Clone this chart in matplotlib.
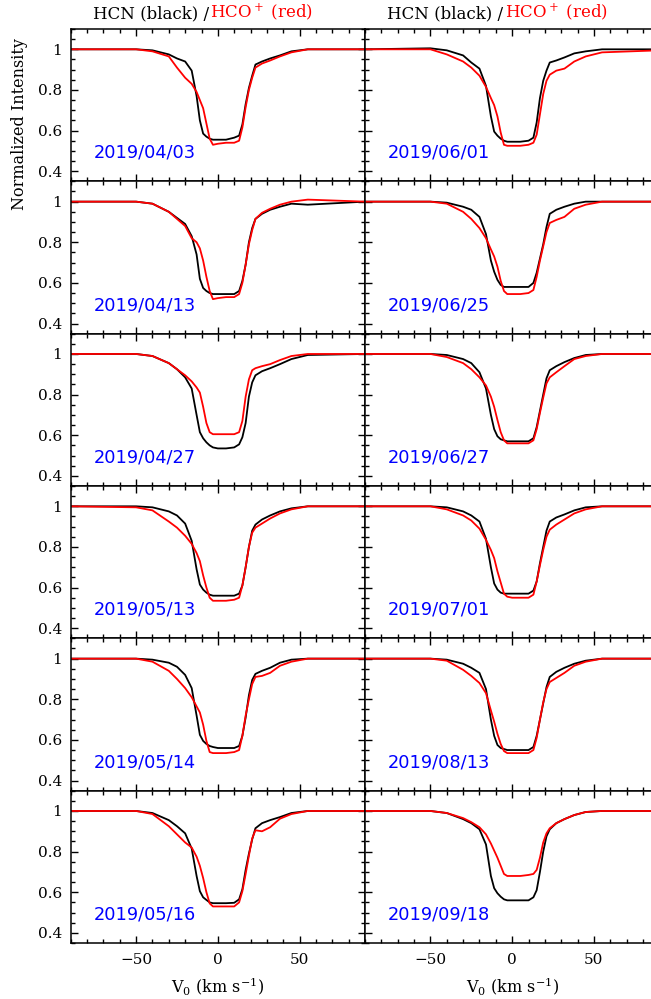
import numpy as np
import matplotlib.pyplot as plt
from matplotlib.ticker import MultipleLocator, FixedLocator, FixedFormatter

# velocity grid (km/s) shared by all profiles
vel = [-90, -50, -40, -30, -25, -20, -16, -13, -11, -9, -7, -5, -3, 0, 5, 10,
       13, 15, 17, 19, 21, 23, 27, 32, 38, 45, 55, 90]

dates_left = ["2019/04/03", "2019/04/13", "2019/04/27", "2019/05/13", "2019/05/14", "2019/05/16"]
dates_right = ["2019/06/01", "2019/06/25", "2019/06/27", "2019/07/01", "2019/08/13", "2019/09/18"]

# HCN (black) / HCO+ (red), left column
hcn_0403 = [1.0, 1.0, 0.995, 0.975, 0.955, 0.94, 0.895, 0.77, 0.65, 0.585, 0.57, 0.56, 0.555, 0.555, 0.555, 0.565,
            0.575, 0.63, 0.73, 0.81, 0.87, 0.925, 0.94, 0.955, 0.97, 0.99, 1.0, 1.0]
hco_0403 = [1.0, 1.0, 0.99, 0.965, 0.91, 0.86, 0.83, 0.79, 0.75, 0.71, 0.635, 0.56, 0.53, 0.535, 0.54, 0.54,
            0.55, 0.615, 0.715, 0.80, 0.86, 0.91, 0.93, 0.945, 0.965, 0.985, 1.0, 1.0]
hcn_0413 = [1.0, 1.0, 0.99, 0.95, 0.92, 0.89, 0.83, 0.74, 0.62, 0.575, 0.56, 0.55, 0.545, 0.545, 0.545, 0.545,
            0.56, 0.61, 0.69, 0.80, 0.87, 0.915, 0.94, 0.96, 0.975, 0.99, 0.985, 1.0]
hco_0413 = [1.0, 1.0, 0.99, 0.95, 0.915, 0.88, 0.82, 0.80, 0.77, 0.71, 0.63, 0.56, 0.52, 0.525, 0.53, 0.53,
            0.545, 0.60, 0.69, 0.79, 0.86, 0.915, 0.945, 0.965, 0.985, 1.0, 1.01, 1.0]
hcn_0427 = [1.0, 1.0, 0.99, 0.955, 0.925, 0.885, 0.83, 0.70, 0.615, 0.585, 0.565, 0.55, 0.54, 0.535, 0.535, 0.54,
            0.555, 0.59, 0.66, 0.79, 0.86, 0.895, 0.915, 0.93, 0.95, 0.975, 0.995, 1.0]
hco_0427 = [1.0, 1.0, 0.99, 0.955, 0.925, 0.895, 0.865, 0.835, 0.81, 0.74, 0.66, 0.615, 0.605, 0.605, 0.605, 0.605,
            0.615, 0.67, 0.79, 0.875, 0.92, 0.93, 0.94, 0.95, 0.97, 0.99, 1.0, 1.0]
hcn_0513 = [1.0, 1.0, 0.995, 0.975, 0.955, 0.915, 0.83, 0.69, 0.615, 0.59, 0.575, 0.565, 0.56, 0.56, 0.56, 0.56,
            0.57, 0.61, 0.70, 0.80, 0.88, 0.91, 0.935, 0.955, 0.975, 0.99, 1.0, 1.0]
hco_0513 = [1.0, 0.995, 0.98, 0.925, 0.895, 0.855, 0.815, 0.77, 0.73, 0.66, 0.60, 0.55, 0.535, 0.535, 0.535, 0.54,
            0.55, 0.61, 0.70, 0.80, 0.87, 0.895, 0.915, 0.94, 0.965, 0.985, 1.0, 1.0]
hcn_0514 = [1.0, 1.0, 0.995, 0.98, 0.96, 0.92, 0.855, 0.72, 0.625, 0.595, 0.58, 0.57, 0.565, 0.56, 0.56, 0.56,
            0.57, 0.62, 0.71, 0.82, 0.895, 0.925, 0.94, 0.955, 0.98, 0.995, 1.0, 1.0]
hco_0514 = [1.0, 1.0, 0.985, 0.94, 0.90, 0.855, 0.81, 0.765, 0.735, 0.675, 0.595, 0.54, 0.535, 0.535, 0.535, 0.54,
            0.55, 0.62, 0.72, 0.80, 0.875, 0.91, 0.915, 0.93, 0.965, 0.985, 1.0, 1.0]
hcn_0516 = [1.0, 1.0, 0.99, 0.955, 0.925, 0.89, 0.815, 0.68, 0.605, 0.575, 0.562, 0.55, 0.546, 0.546, 0.546, 0.548,
            0.565, 0.615, 0.71, 0.79, 0.86, 0.915, 0.94, 0.955, 0.97, 0.99, 1.0, 1.0]
hco_0516 = [1.0, 1.0, 0.985, 0.925, 0.885, 0.845, 0.82, 0.775, 0.73, 0.67, 0.60, 0.545, 0.53, 0.53, 0.53, 0.53,
            0.55, 0.605, 0.69, 0.78, 0.865, 0.905, 0.90, 0.92, 0.962, 0.985, 1.0, 1.0]

# right column
hcn_0601 = [1.0, 1.005, 0.995, 0.97, 0.935, 0.905, 0.82, 0.67, 0.595, 0.575, 0.56, 0.55, 0.545, 0.545, 0.545, 0.55,
            0.565, 0.64, 0.76, 0.845, 0.895, 0.935, 0.945, 0.96, 0.98, 0.99, 1.0, 1.0]
hco_0601 = [1.0, 1.0, 0.975, 0.94, 0.91, 0.87, 0.815, 0.76, 0.725, 0.67, 0.59, 0.53, 0.525, 0.525, 0.525, 0.53,
            0.54, 0.58, 0.68, 0.78, 0.845, 0.875, 0.895, 0.905, 0.94, 0.965, 0.985, 0.995]
hcn_0625 = [1.0, 1.0, 0.995, 0.975, 0.96, 0.925, 0.84, 0.71, 0.655, 0.615, 0.59, 0.58, 0.58, 0.58, 0.58, 0.58,
            0.60, 0.65, 0.72, 0.79, 0.875, 0.94, 0.96, 0.975, 0.99, 1.0, 1.0, 1.0]
hco_0625 = [1.0, 1.0, 0.99, 0.95, 0.915, 0.87, 0.82, 0.765, 0.73, 0.68, 0.61, 0.56, 0.545, 0.545, 0.545, 0.55,
            0.565, 0.63, 0.71, 0.78, 0.85, 0.895, 0.91, 0.925, 0.965, 0.985, 1.0, 1.0]
hcn_0627 = [1.0, 1.0, 0.995, 0.975, 0.955, 0.91, 0.83, 0.70, 0.63, 0.595, 0.58, 0.575, 0.57, 0.57, 0.57, 0.57,
            0.585, 0.64, 0.72, 0.80, 0.88, 0.92, 0.94, 0.96, 0.98, 0.995, 1.0, 1.0]
hco_0627 = [1.0, 1.0, 0.985, 0.955, 0.925, 0.885, 0.845, 0.79, 0.74, 0.675, 0.615, 0.575, 0.56, 0.56, 0.56, 0.56,
            0.575, 0.63, 0.71, 0.785, 0.855, 0.885, 0.91, 0.94, 0.975, 0.99, 1.0, 1.0]
hcn_0701 = [1.0, 1.0, 0.995, 0.975, 0.955, 0.925, 0.84, 0.70, 0.62, 0.59, 0.575, 0.57, 0.57, 0.57, 0.57, 0.57,
            0.585, 0.63, 0.72, 0.80, 0.88, 0.925, 0.945, 0.96, 0.98, 0.995, 1.0, 1.0]
hco_0701 = [1.0, 1.0, 0.985, 0.955, 0.93, 0.89, 0.835, 0.785, 0.745, 0.68, 0.625, 0.57, 0.555, 0.55, 0.55, 0.55,
            0.565, 0.63, 0.71, 0.785, 0.85, 0.885, 0.91, 0.935, 0.965, 0.985, 1.0, 1.0]
hcn_0813 = [1.0, 1.0, 0.995, 0.975, 0.955, 0.93, 0.85, 0.70, 0.62, 0.575, 0.56, 0.555, 0.55, 0.55, 0.55, 0.55,
            0.565, 0.62, 0.70, 0.78, 0.86, 0.91, 0.935, 0.955, 0.975, 0.99, 1.0, 1.0]
hco_0813 = [1.0, 1.0, 0.99, 0.945, 0.915, 0.88, 0.83, 0.745, 0.69, 0.63, 0.58, 0.545, 0.535, 0.535, 0.535, 0.535,
            0.55, 0.61, 0.70, 0.785, 0.85, 0.885, 0.905, 0.93, 0.965, 0.985, 1.0, 1.0]
hcn_0918 = [1.0, 1.0, 0.99, 0.96, 0.94, 0.91, 0.835, 0.68, 0.62, 0.595, 0.578, 0.565, 0.56, 0.56, 0.56, 0.56,
            0.575, 0.61, 0.70, 0.80, 0.875, 0.91, 0.94, 0.96, 0.98, 0.995, 1.0, 1.0]
hco_0918 = [1.0, 1.0, 0.99, 0.965, 0.945, 0.92, 0.885, 0.84, 0.805, 0.77, 0.73, 0.69, 0.68, 0.68, 0.68, 0.685,
            0.69, 0.71, 0.77, 0.845, 0.89, 0.915, 0.94, 0.96, 0.98, 0.995, 1.0, 1.0]

hcn_left = [hcn_0403, hcn_0413, hcn_0427, hcn_0513, hcn_0514, hcn_0516]
hco_left = [hco_0403, hco_0413, hco_0427, hco_0513, hco_0514, hco_0516]
hcn_right = [hcn_0601, hcn_0625, hcn_0627, hcn_0701, hcn_0813, hcn_0918]
hco_right = [hco_0601, hco_0625, hco_0627, hco_0701, hco_0813, hco_0918]

plt.rcParams['font.family'] = 'DejaVu Serif'
plt.rcParams['mathtext.fontset'] = 'dejavuserif'

W, H = 651, 999
fig = plt.figure(figsize=(W / 100, H / 100), dpi=100)

x_left = 70.7 / W
x_mid = 365.0 / W
pw = (365.0 - 70.7) / W
top = 1 - 29.0 / H
rh = (943.0 - 29.0) / 6 / H

def style(ax, row, col):
    ax.set_xlim(-90, 90)
    ax.set_ylim(0.35, 1.1)
    ax.xaxis.set_major_locator(MultipleLocator(50))
    ax.xaxis.set_minor_locator(MultipleLocator(10))
    ax.yaxis.set_major_locator(FixedLocator([0.4, 0.6, 0.8, 1.0]))
    ax.yaxis.set_major_formatter(FixedFormatter(['0.4', '0.6', '0.8', '1']))
    ax.yaxis.set_minor_locator(MultipleLocator(0.05))
    ax.tick_params(which='both', direction='in', top=True, right=True, width=1.0,
                   labelsize=11)
    ax.tick_params(which='major', length=5)
    ax.tick_params(which='minor', length=3)
    ax.tick_params(axis='x', pad=7)
    ax.tick_params(axis='y', pad=6)
    for s in ax.spines.values():
        s.set_linewidth(1.1)
    if col == 1:
        ax.tick_params(labelleft=False)
    if row < 5:
        ax.tick_params(labelbottom=False)

for row in range(6):
    y0 = top - (row + 1) * rh
    for col in range(2):
        ax = fig.add_axes([x_left if col == 0 else x_mid, y0, pw, rh])
        style(ax, row, col)
        if col == 0:
            b, r, d = hcn_left[row], hco_left[row], dates_left[row]
        else:
            b, r, d = hcn_right[row], hco_right[row], dates_right[row]
        ax.plot(vel, b, color='black', lw=1.3)
        ax.plot(vel, r, color='red', lw=1.3)
        ax.text(-76, 0.49, d, color='blue', fontsize=12.8, family='DejaVu Sans',
                ha='left', va='center')
        if row == 5:
            ax.set_xlabel(r'V$_0$ (km s$^{-1}$)', fontsize=11.5, labelpad=6)
        if row == 0:
            t1 = ax.text(0.47, 1.045, 'HCN (black) /', transform=ax.transAxes,
                         fontsize=12, ha='right', va='bottom', color='black')
            ax.annotate(r'HCO$^+$ (red)', xy=(1, 0), xycoords=t1, xytext=(1, 0),
                        textcoords='offset points', fontsize=12, color='red',
                        ha='left', va='bottom')

fig.text(20 / W, 1 - 124 / H, 'Normalized Intensity', rotation=90,
         fontsize=11.5, ha='center', va='center')

fig.savefig('out.png', dpi=100)
